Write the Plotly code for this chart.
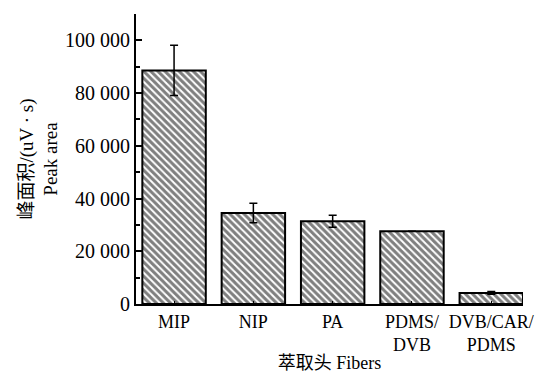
import plotly.graph_objects as go

categories = ["MIP", "NIP", "PA", "PDMS/<br>DVB", "DVB/CAR/<br>PDMS"]
peak_area = [88600, 34500, 31400, 27600, 4200]
error = [9500, 3700, 2300, 0, 500]
y_tickvals = [0, 20000, 40000, 60000, 80000, 100000]
y_ticktext = ["0", "20 000", "40 000", "60 000", "80 000", "100 000"]

font_family = "Liberation Serif, Noto Sans CJK SC, serif"

fig = go.Figure()
fig.add_trace(go.Bar(
    x=list(range(len(categories))),
    y=peak_area,
    width=0.8,
    marker=dict(
        color="white",
        line=dict(color="black", width=2),
        pattern=dict(shape="\\", fgcolor="black", bgcolor="white", size=5, solidity=0.6),
    ),
    error_y=dict(type="data", array=error, visible=True, color="black", thickness=1.5, width=4),
))

# page body has an 8px margin: figure is sized/offset to compensate
fig.update_layout(
    width=549, height=368,
    margin=dict(l=128, r=34, t=6, b=72),
    plot_bgcolor="white", paper_bgcolor="white",
    showlegend=False,
    font=dict(family=font_family, size=20, color="black"),
)
fig.update_xaxes(
    range=[-0.48, 4.4],
    tickvals=list(range(len(categories))),
    ticktext=categories,
    tickangle=0,
    tickfont=dict(size=18),
    showline=True, linecolor="black", linewidth=2,
    ticks="inside", ticklen=3, tickcolor="black",
    showgrid=False, zeroline=False,
    automargin=False,
    title=dict(text="萃取头 Fibers", font=dict(size=18), standoff=2),
)
fig.update_yaxes(
    range=[0, 110000],
    tickvals=y_tickvals, ticktext=y_ticktext,
    showline=True, linecolor="black", linewidth=2,
    ticks="inside", ticklen=6, tickcolor="black", tickwidth=1.5,
    minor=dict(ticks="inside", ticklen=4, dtick=10000, tickcolor="black", tickwidth=1.5),
    showgrid=False, zeroline=False,
    automargin=False,
    title=dict(text="峰面积/(uV · s)<br>Peak area", font=dict(size=19), standoff=2),
)

fig.write_html("out.html")
